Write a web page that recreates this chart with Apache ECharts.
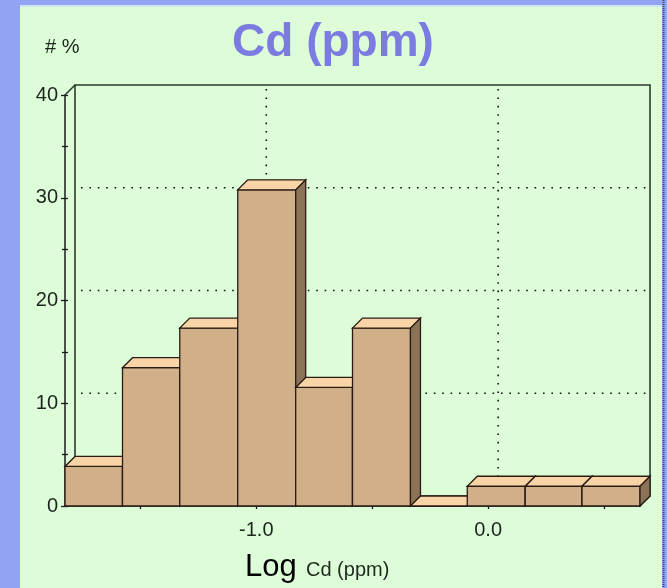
<!DOCTYPE html>
<html>
<head>
<meta charset="utf-8">
<script src="https://cdn.jsdelivr.net/npm/echarts@6/dist/echarts.min.js"></script>
<style>
html,body{margin:0;padding:0;background:#93a3f3;}
#chart{width:667px;height:588px;}
</style>
</head>
<body>
<div id="chart"></div>
<script>
// ---- data ----
const titleText = 'Cd (ppm)';
const yUnitText = '# %';
const xNameMain = 'Log';
const xNameSub = 'Cd (ppm)';
// histogram bin edges (log10 Cd, ppm)
const binEdges = [-1.825, -1.577, -1.33, -1.08, -0.83, -0.585, -0.335, -0.09, 0.16, 0.405, 0.655];
// percentage of samples per bin
const percent = [3.85, 13.46, 17.31, 30.77, 11.54, 17.31, 0, 1.92, 1.92, 1.92];
// axis ticks / labels
const yTicks = [0, 10, 20, 30, 40];
const xTickValues = [-1.5, -1.0, -0.5, 0.0, 0.5];
const xLabelValues = [-1.0, 0.0];
const backGridY = [10, 20, 30];
const backGridX = [-1.0, 0.0];

// ---- styles ----
const DEPTH = 10;
const FONT = '"Liberation Sans", Arial, sans-serif';
const xMin = binEdges[0], xMax = binEdges[binEdges.length - 1];
const yMin = yTicks[0], yMax = yTicks[yTicks.length - 1];

const barData = percent.map((v, i) => [binEdges[i], binEdges[i + 1], v]);

const chart = echarts.init(document.getElementById('chart'), null, {renderer: 'canvas'});

function renderWall(params, api) {
  const bl = api.coord([xMin, yMin]);
  const tr = api.coord([xMax, yMax]);
  const L = bl[0], B = bl[1], R = tr[0], T = tr[1], d = DEPTH;
  const edge = {stroke: '#2c3a2c', lineWidth: 1.6, fill: null};
  const dot = {stroke: '#111', lineWidth: 1.6, lineDash: [1.6, 6.8], fill: null};
  const children = [
    {type: 'polyline', shape: {points: [[L + d, B - d], [L + d, T - d], [R + d, T - d], [R + d, B - d], [L + d, B - d]]}, style: edge},
    {type: 'line', shape: {x1: L, y1: T, x2: L + d, y2: T - d}, style: edge},
    {type: 'line', shape: {x1: L, y1: B, x2: L + d, y2: B - d}, style: edge},
    {type: 'line', shape: {x1: R, y1: B, x2: R + d, y2: B - d}, style: edge}
  ];
  backGridY.forEach(v => {
    const p = api.coord([xMin, v]);
    children.push({type: 'line', shape: {x1: L + d + 6, y1: p[1] - d, x2: R + d, y2: p[1] - d}, style: dot});
  });
  backGridX.forEach(v => {
    const p = api.coord([v, yMin]);
    children.push({type: 'line', shape: {x1: p[0] + d, y1: T - d + 4, x2: p[0] + d, y2: B - d}, style: dot});
  });
  return {type: 'group', children};
}

function renderBar(params, api) {
  const x0 = api.value(0), x1 = api.value(1), v = api.value(2);
  const bl = api.coord([x0, 0]);
  const tr = api.coord([x1, v]);
  const L = bl[0], B = bl[1], R = tr[0], T = tr[1], d = DEPTH;
  const stroke = '#2a1c14';
  const lw = 1.3;
  return {
    type: 'group',
    children: [
      {type: 'rect', shape: {x: L, y: T, width: R - L, height: B - T},
        style: {fill: '#d1b089', stroke, lineWidth: lw}},
      {type: 'polygon', shape: {points: [[L, T], [R, T], [R + d, T - d], [L + d, T - d]]},
        style: {fill: '#f8d4a6', stroke, lineWidth: lw}},
      {type: 'polygon', shape: {points: [[R, T], [R + d, T - d], [R + d, B - d], [R, B]]},
        style: {fill: '#8b7357', stroke, lineWidth: lw}}
    ]
  };
}

const tickLabelStyle = {color: '#1e241e', fontFamily: FONT};

const option = {
  backgroundColor: '#93a3f3',
  animation: false,
  title: {
    text: titleText,
    left: 328, top: 15, textAlign: 'center',
    textStyle: {color: '#7b7be0', fontSize: 46, fontWeight: 'bold', fontFamily: FONT}
  },
  grid: {left: 65, right: 27, top: 95, bottom: 82, containLabel: false},
  xAxis: [
    {
      type: 'value', min: xMin, max: xMax, position: 'bottom',
      splitLine: {show: false},
      axisLine: {show: true, onZero: false, lineStyle: {color: '#1a1a1a', width: 1.5}},
      axisTick: {show: true, inside: false, length: 3, customValues: xTickValues, lineStyle: {color: '#1a1a1a', width: 1.3}},
      axisLabel: {show: true, customValues: xLabelValues, margin: 14, fontSize: 20,
        formatter: v => v.toFixed(1), ...tickLabelStyle}
    },
    {
      type: 'value', min: xMin, max: xMax, position: 'bottom', offset: 0,
      splitLine: {show: false},
      axisLine: {show: false, onZero: false},
      axisTick: {show: true, inside: true, length: 3, customValues: xTickValues, lineStyle: {color: '#1a1a1a', width: 1.3}},
      axisLabel: {show: false}
    }
  ],
  yAxis: [
    {
      type: 'value', min: yMin, max: yMax, interval: 10, position: 'left',
      splitLine: {show: false},
      axisLine: {show: true, onZero: false, lineStyle: {color: '#1a1a1a', width: 1.5}},
      axisTick: {show: true, inside: false, length: 4, lineStyle: {color: '#1a1a1a', width: 1.3}},
      minorTick: {show: true, splitNumber: 2, length: 3, lineStyle: {color: '#1a1a1a', width: 1.3}},
      axisLabel: {show: true, margin: 7, fontSize: 20, ...tickLabelStyle}
    },
    {
      type: 'value', min: yMin, max: yMax, interval: 10, position: 'left', offset: 0,
      splitLine: {show: false},
      axisLine: {show: false, onZero: false},
      axisTick: {show: true, inside: true, length: 3, lineStyle: {color: '#1a1a1a', width: 1.3}},
      minorTick: {show: true, splitNumber: 2, length: 3, lineStyle: {color: '#1a1a1a', width: 1.3}},
      axisLabel: {show: false}
    }
  ],
  graphic: [
    {type: 'rect', z: -10, silent: true, shape: {x: 20, y: 6, width: 642, height: 582}, style: {fill: '#dcfdd8'}},
    {type: 'rect', z: -10, silent: true, shape: {x: 20, y: 5, width: 642, height: 2}, style: {fill: '#cfe6f0'}},
    {type: 'line', z: -9, silent: true, shape: {x1: 663.5, y1: 0, x2: 663.5, y2: 588}, style: {stroke: '#3c4460', lineWidth: 2, lineDash: [1, 1]}},
    {type: 'text', left: 45, top: 37, style: {text: yUnitText, fontSize: 20, fill: '#1e241e', fontFamily: FONT}},
    {type: 'text', left: 245, top: 552, style: {text: xNameMain, fontSize: 31, fill: '#000', fontFamily: FONT}},
    {type: 'text', left: 306, top: 560, style: {text: xNameSub, fontSize: 20, fill: '#1e2a1e', fontFamily: FONT}}
  ],
  series: [
    {
      type: 'custom', name: 'wall', z: 1, silent: true, clip: false,
      xAxisIndex: 0, yAxisIndex: 0,
      data: [[xMin, yMin]],
      renderItem: renderWall
    },
    {
      type: 'custom', name: 'Cd', z: 3, clip: false,
      xAxisIndex: 0, yAxisIndex: 0,
      encode: {x: [0, 1], y: 2},
      data: barData,
      renderItem: renderBar
    }
  ]
};
chart.setOption(option);
</script>
</body>
</html>
